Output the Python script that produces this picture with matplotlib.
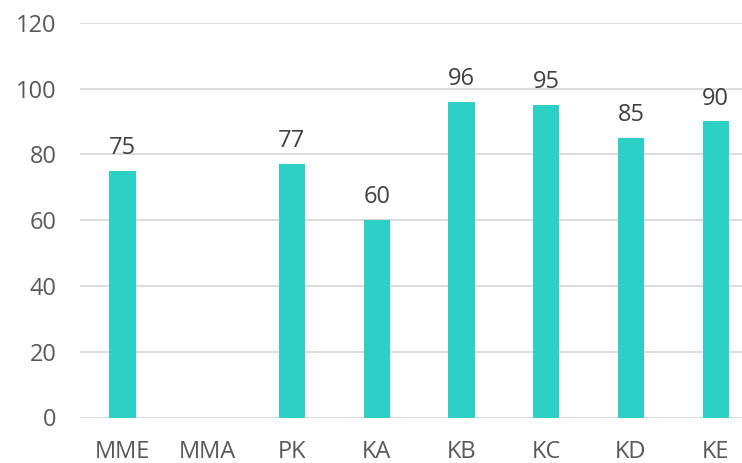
import numpy as np
import matplotlib
matplotlib.use("Agg")
import matplotlib.pyplot as plt

categories = ["MME", "MMA", "PK", "KA", "KB", "KC", "KD", "KE"]
values = [75, np.nan, 77, 60, 96, 95, 85, 90]
y_ticks = [0, 20, 40, 60, 80, 100, 120]

plt.rcParams["font.family"] = ["Open Sans", "DejaVu Sans"]

fig = plt.figure(figsize=(7.42, 4.63), dpi=100)
ax = fig.add_axes([80 / 742, (463 - 417.5) / 463, 1 - 80 / 742, (417.5 - 22.7) / 463])

x = np.arange(len(categories))
bars = ax.bar(x, values, width=0.31, color="#2dd0c4", zorder=3)

# data labels above each bar (MMA has no value)
for xi, v in zip(x, values):
    if np.isnan(v):
        continue
    ax.text(xi, v + 3.3, f"{v:.0f}", ha="center", va="bottom",
            fontsize=17, color="#404040")

ax.set_xlim(-0.5, 7.31)
ax.set_ylim(0, 120)
ax.set_yticks(y_ticks)
ax.set_xticks(x)
ax.set_xticklabels(categories)
ax.tick_params(axis="both", length=0, labelsize=17, labelcolor="#595959")
ax.tick_params(axis="y", pad=17)
ax.tick_params(axis="x", pad=16)
ax.grid(axis="y", color="#d9d9d9", linewidth=1.3, zorder=0)
for s in ax.spines.values():
    s.set_visible(False)

fig.savefig("out.png", dpi=100)
